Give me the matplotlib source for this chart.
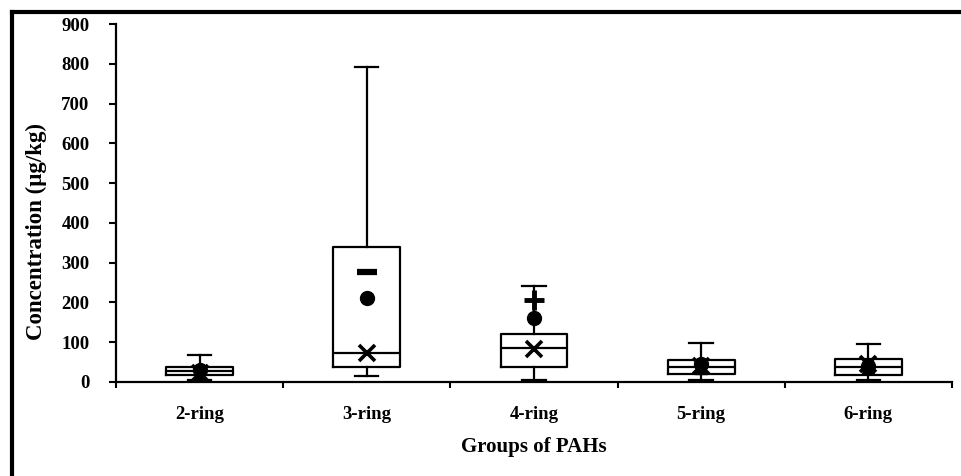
import matplotlib
matplotlib.use("Agg")
import matplotlib.pyplot as plt
from matplotlib.lines import Line2D
import numpy as np

plt.rcParams["font.family"] = ["Liberation Serif", "DejaVu Serif"]

categories = ["2-ring", "3-ring", "4-ring", "5-ring", "6-ring"]
q1 = [18, 38, 38, 20, 18]
median = [27, 73, 85, 38, 38]
q3 = [38, 340, 120, 55, 58]
whisker_low = [5, 15, 5, 5, 5]
whisker_high = [68, 792, 242, 98, 95]
mean = [22, 73, 83, 40, 45]

# extra point series drawn over the boxes
circle_vals = [30, 212, 160, 45, 40]
dash_vals = [np.nan, 277, np.nan, np.nan, np.nan]
plus_vals = [np.nan, np.nan, 205, np.nan, np.nan]
triangle_vals = [12, np.nan, np.nan, 35, 38]

y_ticks = list(range(0, 901, 100))

fig = plt.figure(figsize=(9.61, 4.76), dpi=100)
ax = fig.add_axes([0.1207, 0.1975, 0.8699, 0.752])

stats = []
for i, name in enumerate(categories):
    stats.append({
        "label": name,
        "q1": q1[i],
        "med": median[i],
        "q3": q3[i],
        "whislo": whisker_low[i],
        "whishi": whisker_high[i],
        "mean": mean[i],
        "fliers": [],
    })

pos = np.arange(len(categories))
ax.bxp(
    stats,
    positions=pos,
    widths=0.4,
    showmeans=True,
    showfliers=False,
    boxprops=dict(color="black", linewidth=1.6),
    medianprops=dict(color="black", linewidth=1.6),
    whiskerprops=dict(color="black", linewidth=1.6),
    capprops=dict(color="black", linewidth=1.6),
    capwidths=0.14,
    meanprops=dict(marker="x", markeredgecolor="black", markersize=11,
                   markeredgewidth=2.6),
)

ax.plot(pos, circle_vals, "o", color="black", markersize=10, zorder=4)
ax.plot(pos, dash_vals, "_", color="black", markersize=14,
        markeredgewidth=4.5, zorder=4)
ax.plot(pos, plus_vals, "+", color="black", markersize=14,
        markeredgewidth=3.5, zorder=4)
ax.plot(pos, triangle_vals, "^", color="black", markersize=9, zorder=4)

ax.set_xlim(-0.5, len(categories) - 0.5)
ax.set_ylim(0, 900)
ax.set_yticks(y_ticks)
ax.set_xticks(pos)
ax.set_xticklabels(categories, fontsize=13.5, fontweight="bold")
ax.set_xticks(np.arange(-0.5, len(categories)), minor=True)
ax.tick_params(axis="x", which="major", length=0, pad=17)
ax.tick_params(axis="x", which="minor", length=4, width=1.5, direction="out")
ax.tick_params(axis="y", length=5, width=1.5, direction="out", labelsize=13.5,
               pad=14)
for lab in ax.get_yticklabels():
    lab.set_fontweight("bold")

for side in ["top", "right"]:
    ax.spines[side].set_visible(False)
for side in ["left", "bottom"]:
    ax.spines[side].set_linewidth(1.6)

ax.set_ylabel("Concentration (μg/kg)", fontsize=16.5, fontweight="bold")
ax.yaxis.set_label_coords(-0.082, 0.42)
ax.set_xlabel("Groups of PAHs", fontsize=15, fontweight="bold")
ax.xaxis.set_label_coords(0.5, -0.154)

# frame of the original figure (only top and left edges visible)
fig.add_artist(Line2D([12 / 961, 1], [1 - 12 / 476, 1 - 12 / 476],
                      transform=fig.transFigure, color="black", linewidth=3))
fig.add_artist(Line2D([12 / 961, 12 / 961], [0, 1 - 12 / 476],
                      transform=fig.transFigure, color="black", linewidth=3))

fig.savefig("out.png", dpi=100)
